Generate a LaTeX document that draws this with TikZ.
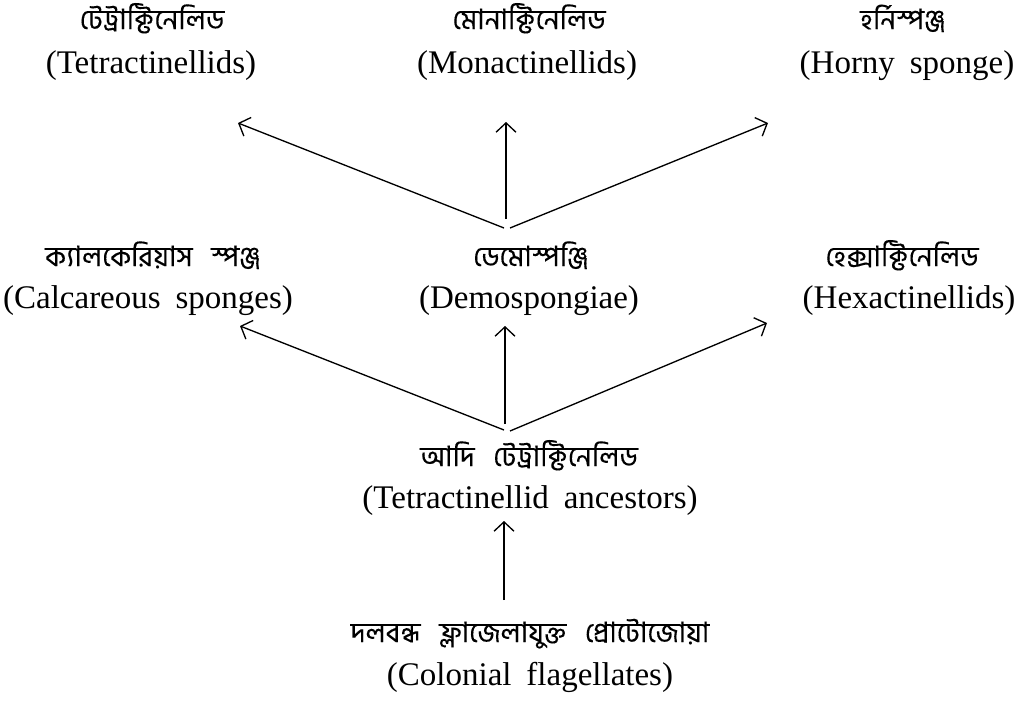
\documentclass[tikz,border=0pt]{standalone}
\usepackage{fontspec}
\setmainfont{Liberation Serif}
\newfontfamily\bnfont[Script=Bengali,FakeBold=0.2]{Hind Siliguri}
\usetikzlibrary{arrows.meta}

% wide gap between Bengali words
\newcommand{\bngap}{\hspace{14pt}}
% English label font with slightly wider word spaces
\newcommand{\enlabelfont}{\fontsize{24.75}{30}\selectfont\spaceskip=0.45em\relax}

\begin{document}
\begin{tikzpicture}[x=0.75pt,y=-0.75pt,
  bntext/.style={inner sep=0pt, anchor=center, text height=12pt, text depth=3pt,
    font=\fontsize{21}{25}\bnfont},
  entext/.style={inner sep=0pt, anchor=center, text height=17pt, text depth=5pt,
    font=\enlabelfont},
  link/.style={line width=1pt, -{Straight Barb[length=7pt,width=15pt]}}]
\useasboundingbox (0,0) rectangle (1018,703);

% top row
\node[bntext] (tetraB) at (152,23) {টেট্রাক্টিনেলিড};
\node[entext] (tetraE) at (151,65) {(Tetractinellids)};
\node[bntext] (monaB) at (529,23) {মোনাক্টিনেলিড};
\node[entext] (monaE) at (527,65) {(Monactinellids)};
\node[bntext] (hornB) at (903,23) {হর্নিস্পঞ্জ};
\node[entext] (hornE) at (907,65) {(Horny sponge)};

% middle row
\node[bntext] (calcB) at (153,260) {ক্যালকেরিয়াস\bngap স্পঞ্জ};
\node[entext] (calcE) at (148,300) {(Calcareous sponges)};
\node[bntext] (demoB) at (531,260) {ডেমোস্পঞ্জি};
\node[entext] (demoE) at (529,300) {(Demospongiae)};
\node[bntext] (hexaB) at (902,260) {হেক্সাক্টিনেলিড};
\node[entext] (hexaE) at (909,300) {(Hexactinellids)};

% ancestors
\node[bntext] (ancB) at (529,460) {আদি\bngap টেট্রাক্টিনেলিড};
\node[entext] (ancE) at (530,500) {(Tetractinellid ancestors)};

% colonial flagellates
\node[bntext] (colB) at (530,636) {দলবন্ধ\bngap ফ্লাজেলাযুক্ত\bngap প্রোটোজোয়া};
\node[entext] (colE) at (530,677) {(Colonial flagellates)};

% junction points and arrow tips
\coordinate (jL1) at (504,228);
\coordinate (jM1) at (506,219);
\coordinate (jR1) at (510,228);
\coordinate (aL) at (238,123);
\coordinate (aM) at (506,122);
\coordinate (aR) at (768,123);

\coordinate (jL2) at (504,430);
\coordinate (jM2) at (505,424);
\coordinate (jR2) at (510,431);
\coordinate (cL) at (240,326);
\coordinate (cM) at (505,326);
\coordinate (cR) at (767,323);

\coordinate (b0) at (504,600);
\coordinate (b1) at (504,521);

\draw[link] (jL1) -- (aL);
\draw[link] (jM1) -- (aM);
\draw[link] (jR1) -- (aR);

\draw[link] (jL2) -- (cL);
\draw[link] (jM2) -- (cM);
\draw[link] (jR2) -- (cR);

\draw[link] (b0) -- (b1);
\end{tikzpicture}
\end{document}
